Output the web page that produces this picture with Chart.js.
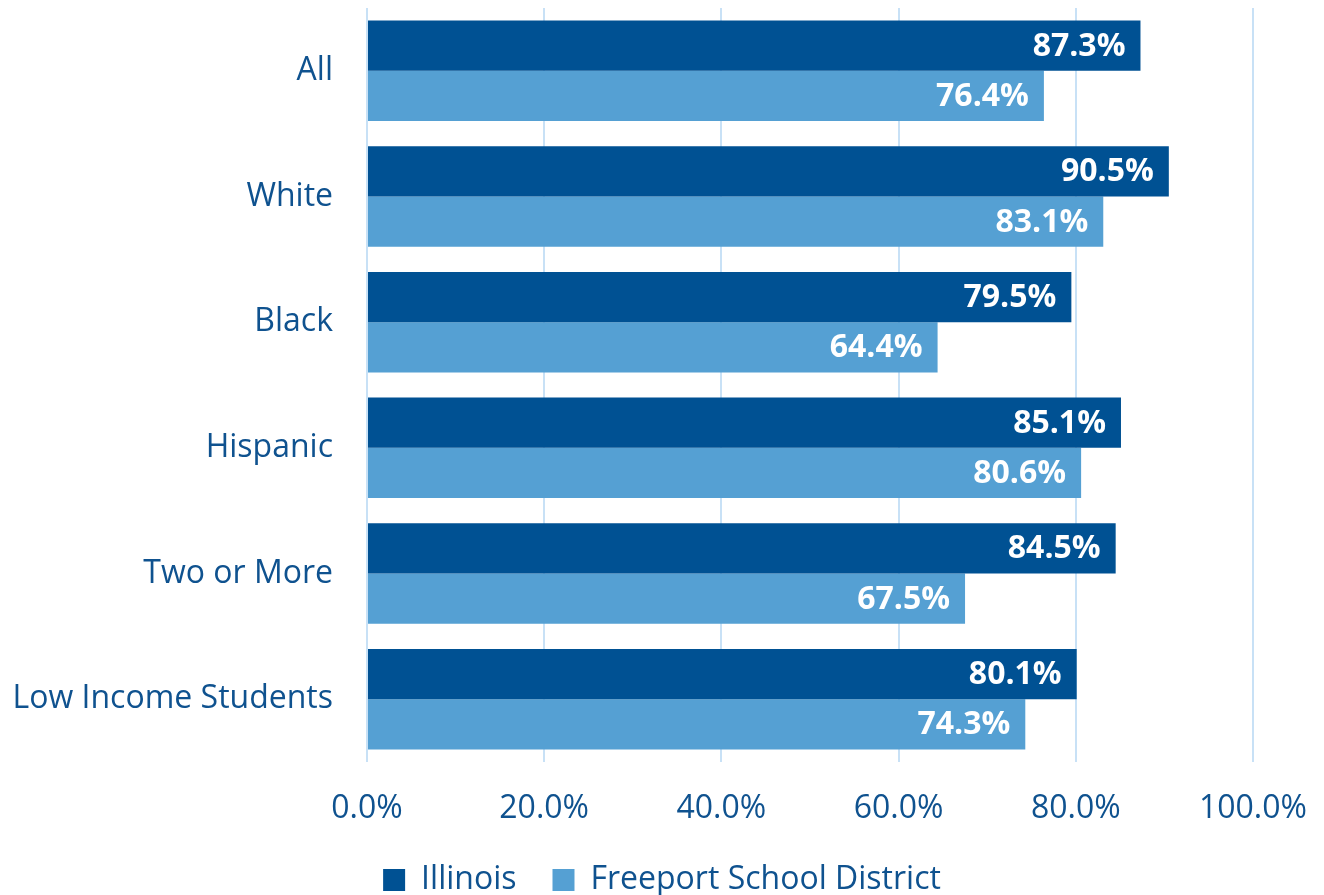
<!DOCTYPE html>
<html><head><meta charset="utf-8">
<script src="https://cdn.jsdelivr.net/npm/chart.js@4/dist/chart.umd.min.js"></script>
<style>html,body{margin:0;padding:0;background:#fff}#wrap{width:1324px;height:895px}</style>
</head><body><div id="wrap"><canvas id="c" width="1324" height="895"></canvas></div>
<script>
const categories = ["All","White","Black","Hispanic","Two or More","Low Income Students"];
const illinois = [87.3,90.5,79.5,85.1,84.5,80.1];
const freeport = [76.4,83.1,64.4,80.6,67.5,74.3];
const seriesNames = ["Illinois","Freeport School District"];
const xTicks = [0,20,40,60,80,100];

const textColor = "#0F528F";
const FONT = "'Open Sans', sans-serif";

const labelPlugin = {
  id: "barLabels",
  afterDatasetsDraw(chart) {
    const ctx = chart.ctx;
    ctx.save();
    ctx.font = "bold 32px " + FONT;
    ctx.fillStyle = "#ffffff";
    ctx.textAlign = "right";
    ctx.textBaseline = "middle";
    chart.data.datasets.forEach((ds, i) => {
      const meta = chart.getDatasetMeta(i);
      meta.data.forEach((bar, j) => {
        ctx.fillText(ds.data[j].toFixed(1) + "%", bar.x - 15, bar.y + 1);
      });
    });
    ctx.restore();
  }
};

new Chart(document.getElementById("c"), {
  type: "bar",
  data: {
    labels: categories,
    datasets: [
      {label: seriesNames[0], data: illinois, backgroundColor: "#005193", categoryPercentage: 0.8, barPercentage: 1.0},
      {label: seriesNames[1], data: freeport, backgroundColor: "#55A0D3", categoryPercentage: 0.8, barPercentage: 1.0}
    ]
  },
  options: {
    indexAxis: "y",
    responsive: false,
    animation: false,
    layout: {padding: {left: 0, right: 0, top: 8, bottom: -11}},
    plugins: {
      legend: {
        position: "bottom",
        labels: {
          boxWidth: 22, boxHeight: 22, padding: 36,
          color: textColor,
          font: {family: FONT, size: 32}
        }
      },
      tooltip: {enabled: false}
    },
    scales: {
      x: {
        min: 0, max: 100,
        afterBuildTicks(s) { s.ticks = xTicks.map(v => ({value: v})); },
        grid: {color: "#C8E1F6", lineWidth: 2, drawTicks: false},
        border: {display: false},
        ticks: {
          color: textColor, padding: 31,
          font: {family: FONT, size: 32, lineHeight: 1},
          callback: v => v.toFixed(1) + "%"
        },
        afterFit(s) { s.height = 66; s.paddingLeft = 0; s.paddingRight = 71; }
      },
      y: {
        grid: {display: false},
        border: {display: false},
        ticks: {color: textColor, padding: 26, font: {family: FONT, size: 32}},
        afterFit(s) { s.width = 367; s.paddingTop = 0; s.paddingBottom = 0; }
      }
    }
  },
  plugins: [labelPlugin]
});
</script></body></html>
